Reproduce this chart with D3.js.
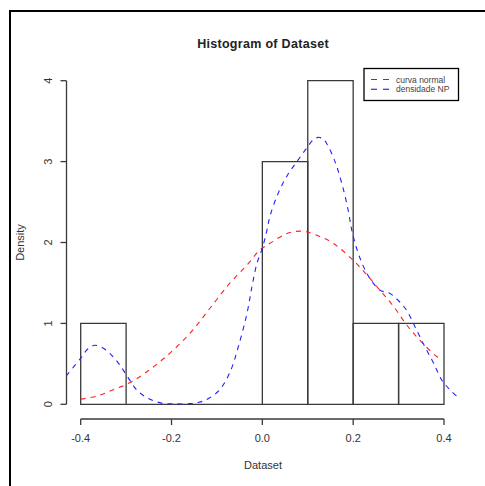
<!DOCTYPE html>
<html><head><meta charset="utf-8">
<script src="https://cdn.jsdelivr.net/npm/d3@7"></script>
<style>body{margin:0;background:#fff}svg{display:block}text{font-family:"Liberation Sans",Arial,sans-serif}</style>
</head><body>
<script>
const binEdges = [-0.4,-0.3,-0.2,-0.1,0.0,0.1,0.2,0.3,0.4];
const binDensity = [1,0,0,0,3,4,1,1];
const xTicks = [-0.4,-0.2,0.0,0.2,0.4];
const xTickLabels = ["-0.4","-0.2","0.0","0.2","0.4"];
const yTicks = [0,1,2,3,4];
const yTickLabels = ["0","1","2","3","4"];
const normalX = [-0.40,-0.365,-0.328,-0.291,-0.255,-0.21,-0.159,-0.115,-0.071,-0.034,-0.005,0.017,0.054,0.087,0.12,0.156,0.20,0.23,0.259,0.289,0.318,0.347,0.384,0.391];
const normalY = [0.065,0.10,0.18,0.27,0.40,0.60,0.88,1.19,1.50,1.72,1.91,1.99,2.11,2.14,2.09,1.99,1.78,1.60,1.41,1.21,0.98,0.79,0.59,0.57];
const kdeX = [-0.432,-0.40,-0.385,-0.369,-0.352,-0.336,-0.317,-0.299,-0.277,-0.252,-0.222,-0.19,-0.16,-0.14,-0.126,-0.108,-0.093,-0.071,-0.053,-0.034,-0.023,-0.012,0.0,0.01,0.017,0.035,0.054,0.076,0.098,0.112,0.123,0.134,0.142,0.16,0.175,0.189,0.197,0.208,0.219,0.23,0.241,0.259,0.281,0.30,0.318,0.336,0.358,0.377,0.395,0.413,0.432];
const kdeY = [0.35,0.57,0.68,0.73,0.70,0.63,0.51,0.36,0.18,0.075,0.015,0.005,0.008,0.025,0.05,0.11,0.185,0.40,0.71,1.12,1.45,1.74,1.93,2.15,2.33,2.61,2.82,3.00,3.17,3.27,3.30,3.28,3.22,3.00,2.73,2.40,2.15,1.92,1.75,1.62,1.52,1.41,1.37,1.28,1.16,0.96,0.71,0.51,0.30,0.18,0.08];
const legendLabels = ["curva normal","densidade NP"];
const legendColors = ["red","blue"];

const W = 485, H = 486;
const svg = d3.select("body").append("svg").attr("width", W).attr("height", H);

// outer frame
svg.append("rect").attr("x",10).attr("y",11).attr("width",600).attr("height",600)
  .attr("fill","none").attr("stroke","#000").attr("stroke-width",2);

const x = d3.scaleLinear().domain([-0.4,0.4]).range([80.7,444]);
const y = d3.scaleLinear().domain([0,4]).range([404.3,80.7]);
const plotL = x(-0.432), plotR = x(0.432), plotT = y(4.16), plotB = y(-0.16);

svg.append("defs").append("clipPath").attr("id","clip").append("rect")
  .attr("x",plotL).attr("y",plotT).attr("width",plotR-plotL).attr("height",plotB-plotT);

// title
svg.append("text").attr("x",263).attr("y",48).attr("text-anchor","middle")
  .attr("font-size",12.5).attr("font-weight","bold").attr("letter-spacing",0.3).attr("fill","#222").text("Histogram of Dataset");

// histogram bars
const bars = binDensity.map((d,i)=>({x0:binEdges[i],x1:binEdges[i+1],d}));
svg.append("g").selectAll("path").data(bars).join("path")
  .attr("d", b => `M${x(b.x0)},${y(0)}V${y(b.d)}H${x(b.x1)}V${y(0)}Z`)
  .attr("fill","none").attr("stroke","#3a3a3a").attr("stroke-width",1.3);

// x axis
const xAxisY = 419;
const gx = svg.append("g").attr("transform",`translate(0,${xAxisY})`);
gx.append("line").attr("x1",x(-0.4)).attr("x2",x(0.4)).attr("y1",0).attr("y2",0).attr("stroke","#3a3a3a").attr("stroke-width",1.3);
gx.selectAll("line.t").data(xTicks).join("line").attr("class","t")
  .attr("x1",d=>x(d)).attr("x2",d=>x(d)).attr("y1",0).attr("y2",6).attr("stroke","#3a3a3a").attr("stroke-width",1.3);
gx.selectAll("text").data(xTicks).join("text")
  .attr("x",d=>x(d)).attr("y",23).attr("text-anchor","middle").attr("font-size",11).attr("fill","#333")
  .text((d,i)=>xTickLabels[i]);
svg.append("text").attr("x",263).attr("y",469).attr("text-anchor","middle").attr("font-size",11).attr("fill","#333").text("Dataset");

// y axis
const yAxisX = 66.5;
const gy = svg.append("g").attr("transform",`translate(${yAxisX},0)`);
gy.append("line").attr("x1",0).attr("x2",0).attr("y1",y(0)).attr("y2",y(4)).attr("stroke","#3a3a3a").attr("stroke-width",1.3);
gy.selectAll("line.t").data(yTicks).join("line").attr("class","t")
  .attr("x1",0).attr("x2",-6).attr("y1",d=>y(d)).attr("y2",d=>y(d)).attr("stroke","#3a3a3a").attr("stroke-width",1.3);
gy.selectAll("text").data(yTicks).join("text")
  .attr("transform",d=>`translate(-15,${y(d)}) rotate(-90)`).attr("text-anchor","middle").attr("font-size",11).attr("fill","#333")
  .text((d,i)=>yTickLabels[i]);
svg.append("text").attr("transform",`translate(24,${(plotT+plotB)/2}) rotate(-90)`).attr("text-anchor","middle")
  .attr("font-size",11).attr("fill","#333").text("Density");

// curves
const line = d3.line().x(d=>x(d[0])).y(d=>y(d[1])).curve(d3.curveCatmullRom);
const cg = svg.append("g").attr("clip-path","url(#clip)");
cg.append("path").attr("d", line(normalX.map((v,i)=>[v,normalY[i]])))
  .attr("fill","none").attr("stroke","#ff2020").attr("stroke-width",1.1).attr("stroke-dasharray","5,5");
cg.append("path").attr("d", line(kdeX.map((v,i)=>[v,kdeY[i]])))
  .attr("fill","none").attr("stroke","#2020ff").attr("stroke-width",1.1).attr("stroke-dasharray","5,5");

// legend
const lg = svg.append("g");
lg.append("rect").attr("x",364).attr("y",68.5).attr("width",94.5).attr("height",32)
  .attr("fill","#fff").attr("stroke","#000").attr("stroke-width",1.3);
legendLabels.forEach((t,i)=>{
  const yy = 79.5 + i*9.8;
  lg.append("line").attr("x1",371).attr("x2",392).attr("y1",yy).attr("y2",yy)
    .attr("stroke",legendColors[i]).attr("stroke-width",1.1).attr("stroke-dasharray","6,6");
  lg.append("text").attr("x",396).attr("y",yy+3).attr("font-size",8.5).attr("fill","#444").text(t);
});
</script>
</body></html>
